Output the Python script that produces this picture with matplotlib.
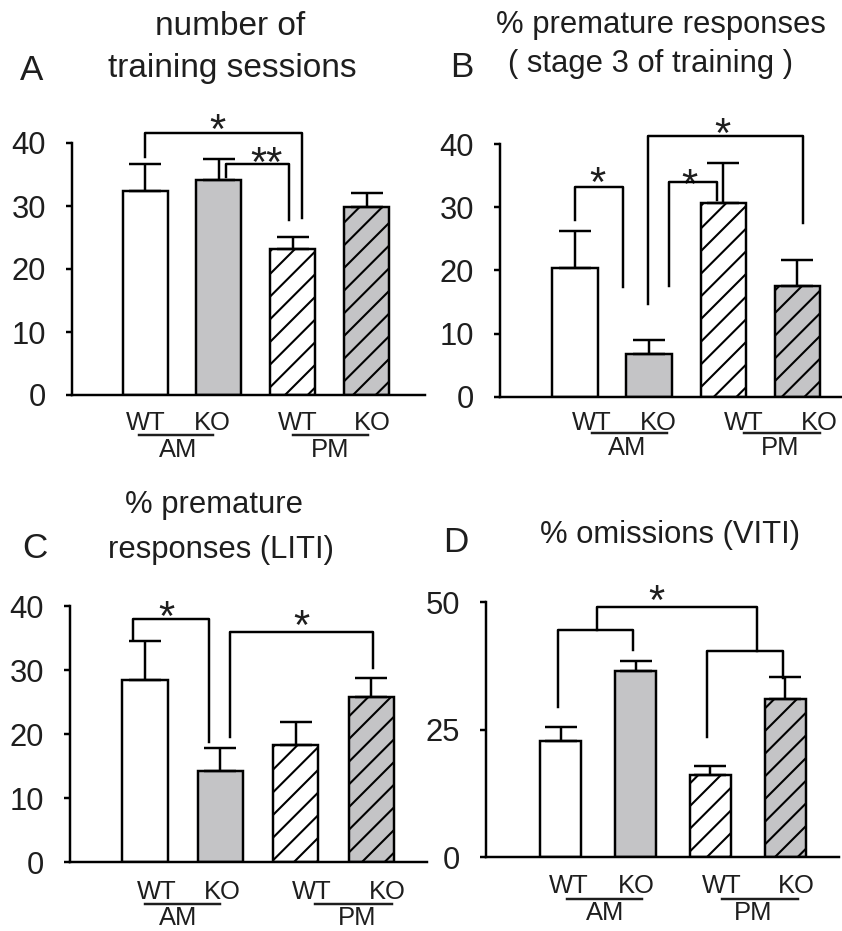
import numpy as np
import matplotlib
matplotlib.use('Agg')
import matplotlib.pyplot as plt

# values (mean and upper error)
groups = ['WT', 'KO', 'WT', 'KO']
periods = ['AM', 'PM']

sessions_mean = [32.4, 34.2, 23.2, 29.9]
sessions_err = [4.2, 3.2, 1.8, 2.1]

prem_stage3_mean = [20.4, 6.8, 30.7, 17.6]
prem_stage3_err = [5.8, 2.2, 6.3, 4.0]

prem_liti_mean = [28.5, 14.3, 18.3, 25.8]
prem_liti_err = [6.1, 3.5, 3.6, 2.9]

omis_viti_mean = [22.9, 36.5, 16.1, 31.1]
omis_viti_err = [2.6, 1.9, 1.9, 4.2]

W, H, DPI = 842, 931, 136
plt.rcParams['font.family'] = ['Liberation Sans', 'DejaVu Sans']
plt.rcParams['hatch.linewidth'] = 1.1
TXT = '#1e1e1e'
GRAY = '#c4c4c6'
LW = 1.3
STAR = 22

fig = plt.figure(figsize=(W / DPI, H / DPI), dpi=DPI)


def px_axes(left, right, y0, ytop):
    return fig.add_axes([left / W, 1 - y0 / H, (right - left) / W, (y0 - ytop) / H])


def ftext(x, y, s, size, ha='center'):
    fig.text(x / W, 1 - y / H, s, ha=ha, va='baseline', fontsize=size, color=TXT)


def panel(ax, means, errs, ylim, yticks, xlim, width):
    x = np.arange(1, 5)
    faces = ['white', GRAY, 'white', GRAY]
    hatches = [None, None, '//', '//']
    for xi, m, fc, h in zip(x, means, faces, hatches):
        ax.bar(xi, m, width=width, color=fc, edgecolor='black', linewidth=LW,
               hatch=h, zorder=2)
    ax.errorbar(x, means, yerr=[np.zeros(4), errs], fmt='none', ecolor='black',
                elinewidth=LW, capsize=8.5, capthick=LW, zorder=3)
    ax.set_ylim(*ylim)
    ax.set_xlim(*xlim)
    ax.set_yticks(yticks)
    ax.set_xticks([])
    for s in ['top', 'right']:
        ax.spines[s].set_visible(False)
    for s in ['left', 'bottom']:
        ax.spines[s].set_linewidth(LW)
    ax.tick_params(axis='y', direction='out', length=3.2, width=LW, pad=10.5,
                   labelsize=16.4, labelcolor=TXT)
    ax.patch.set_alpha(0)


def group_labels(ax, axh, xs, base_wt, base_line, base_am):
    tr = ax.get_xaxis_transform()
    # xs: (wt_x, ko_x, line_x0, line_x1, period_x) for AM and PM
    for (wt, ko, l0, l1, px), per in zip(xs, periods):
        ax.text(wt, -base_wt / axh, 'WT', transform=tr, ha='center', va='baseline',
                fontsize=13.5, color=TXT)
        ax.text(ko, -base_wt / axh, 'KO', transform=tr, ha='center', va='baseline',
                fontsize=13.5, color=TXT)
        ax.plot([l0, l1], [-base_line / axh] * 2, transform=tr, color=TXT,
                lw=LW, clip_on=False)
        ax.text(px, -base_am / axh, per, transform=tr, ha='center', va='baseline',
                fontsize=13.5, color=TXT)


def bracket(ax, x0, x1, top, y0, y1):
    ax.plot([x0, x0, x1, x1], [y0, top, top, y1], color='black', lw=LW,
            clip_on=False, zorder=4)


def star(ax, x, y, s='*'):
    ax.annotate(s, xy=(x, y), xytext=(0, -0.57 * STAR), textcoords='offset points',
                ha='center', va='baseline', fontsize=STAR, color=TXT,
                annotation_clip=False)


# ---------------- A ----------------
axA = px_axes(72, 425, 395, 143)
panel(axA, sessions_mean, sessions_err, (0, 40), [0, 10, 20, 30, 40], (0.011, 4.79), 0.61)
bracket(axA, 1.0, 3.12, 41.6, 37.8, 28.1)
star(axA, 1.98, 43.7)
bracket(axA, 2.10, 2.95, 36.7, 34.6, 27.8)
star(axA, 2.65, 38.6, '**')
group_labels(axA, 252, [(1.01, 1.91, 0.92, 1.92, 1.45), (3.07, 4.08, 3.0, 4.02, 3.5)],
             35, 40, 61.7)
ftext(230, 35, 'number of', 17.7)
ftext(232, 77, 'training sessions', 17.7)
ftext(32, 80, 'A', 18.5)

# ---------------- B ----------------
axB = px_axes(500, 842, 396.7, 144.3)
panel(axB, prem_stage3_mean, prem_stage3_err, (0, 40), [0, 10, 20, 30, 40], (-0.01, 4.6), 0.61)
bracket(axB, 1.0, 1.65, 33.2, 28.0, 17.4)
star(axB, 1.30, 35.5)
bracket(axB, 2.27, 2.92, 34.0, 17.6, 31.2)
star(axB, 2.54, 35.3)
bracket(axB, 1.99, 4.07, 41.3, 14.7, 27.6)
star(axB, 2.99, 43.4)
group_labels(axB, 252.4, [(1.23, 2.12, 1.23, 2.24, 1.70), (3.28, 4.30, 3.28, 4.30, 3.76)],
             33.3, 36.6, 58.3)
ftext(661, 33, '% premature responses', 16.4)
ftext(651, 72, '( stage 3 of training )', 16.4)
ftext(462, 77, 'B', 18.5)

# ---------------- C ----------------
axC = px_axes(70, 427, 862.3, 606)
panel(axC, prem_liti_mean, prem_liti_err, (0, 40), [0, 10, 20, 30, 40], (0.004, 4.74), 0.6)
bracket(axC, 0.84, 1.85, 38.0, 34.7, 18.8)
star(axC, 1.28, 39.9)
bracket(axC, 2.12, 4.03, 35.9, 19.6, 30.3)
star(axC, 3.08, 38.6)
group_labels(axC, 256.3, [(1.16, 2.02, 1.0, 2.0, 1.44), (3.21, 4.21, 3.26, 4.28, 3.81)],
             37, 42, 63)
ftext(214, 513, '% premature', 16.4)
ftext(221, 558, 'responses (LITI)', 16.4)
ftext(35, 558, 'C', 18.5)

# ---------------- D ----------------
axD = px_axes(486, 839, 857.3, 602.3)
panel(axD, omis_viti_mean, omis_viti_err, (0, 50), [0, 25, 50], (0.0, 4.72), 0.55)
bracket(axD, 0.96, 1.96, 44.6, 29.4, 40.6)
bracket(axD, 2.95, 3.97, 40.5, 23.6, 35.1)
bracket(axD, 1.49, 3.63, 49.0, 44.6, 40.5)
star(axD, 2.28, 52.4)
group_labels(axD, 255, [(1.10, 2.01, 1.08, 2.08, 1.59), (3.15, 4.15, 3.15, 4.17, 3.57)],
             36, 42, 63)
ftext(670, 543, '% omissions (VITI)', 16.4)
ftext(456, 552, 'D', 18.5)

fig.savefig('out.png', dpi=DPI)
